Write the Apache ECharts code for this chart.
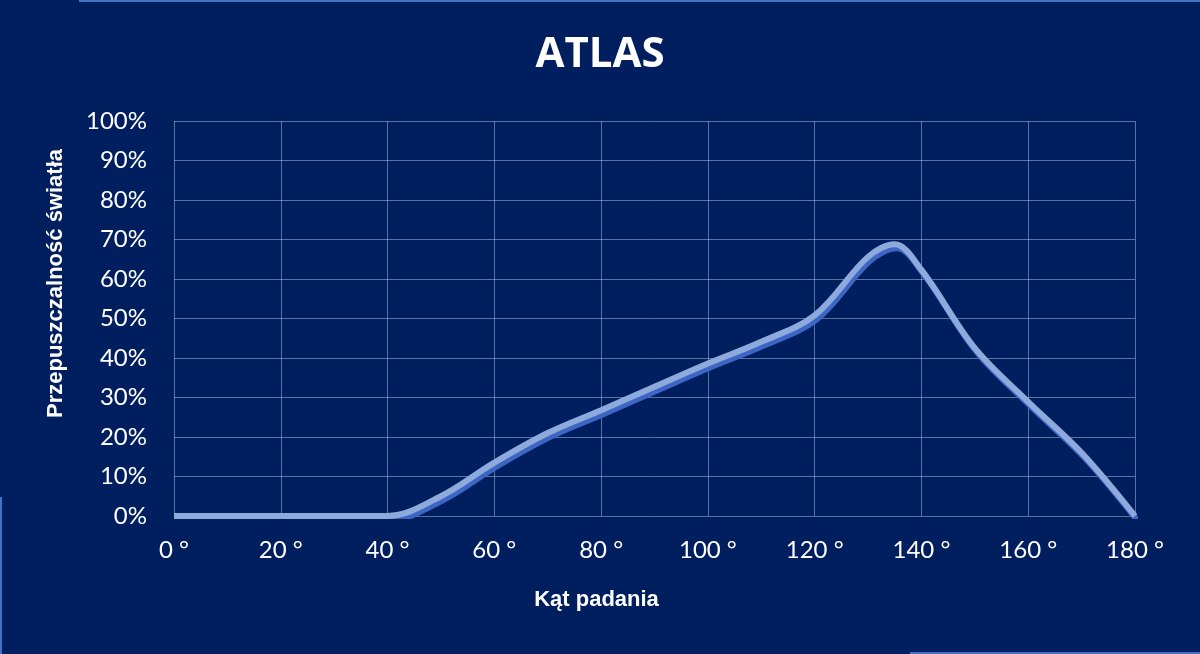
<!DOCTYPE html>
<html>
<head>
<meta charset="utf-8">
<script src="https://cdn.jsdelivr.net/npm/echarts@6/dist/echarts.min.js"></script>
<style>
  html, body { margin: 0; padding: 0; background: #011f5f; }
  #chart { width: 1200px; height: 654px; }
</style>
</head>
<body>
<div id="chart"></div>
<script>
// kąt padania (stopnie) i przepuszczalność (%)
const angles = [0, 10, 20, 30, 40, 50, 60, 70, 80, 90, 100, 110, 120, 130, 135, 140, 150, 160, 170, 180]
const transmission = [0, 0, 0, 0, 0, 5, 13.5, 21, 26.8, 32.7, 38.6, 44.1, 50.8, 65.6, 68.8, 62.3, 42.5, 28.9, 16, 0]
const xTicks = [0, 20, 40, 60, 80, 100, 120, 140, 160, 180]
const yTicks = [0, 10, 20, 30, 40, 50, 60, 70, 80, 90, 100]

const chart = echarts.init(document.getElementById('chart'))
const gridColor = 'rgba(200, 215, 245, 0.45)'
const labelFont = 'Lato, "Open Sans", sans-serif'
const nameFont = '"Liberation Sans", Arial, sans-serif'

const option = {
  backgroundColor: '#011f5f',
  animation: false,
  title: {
    text: 'ATLAS',
    left: 'center',
    top: 29,
    textStyle: {
      color: '#ffffff',
      fontFamily: '"Open Sans", sans-serif',
      fontWeight: 'bold',
      fontSize: 42
    }
  },
  grid: { left: 174, right: 65, top: 121, bottom: 138 },
  xAxis: {
    type: 'value',
    min: xTicks[0],
    max: xTicks[xTicks.length - 1],
    interval: 20,
    name: 'Kąt padania',
    nameLocation: 'middle',
    nameGap: 73,
    nameTextStyle: {
      color: '#ffffff', fontFamily: nameFont, fontWeight: 'bold', fontSize: 22,
      padding: [0, 116, 0, 0]
    },
    axisLine: { show: false },
    axisTick: { show: false },
    axisLabel: {
      color: '#ffffff',
      fontFamily: labelFont,
      fontSize: 24,
      margin: 22,
      formatter: v => v + ' °'
    },
    splitLine: { show: true, lineStyle: { color: gridColor, width: 1 } }
  },
  yAxis: {
    type: 'value',
    min: yTicks[0],
    max: yTicks[yTicks.length - 1],
    interval: 10,
    name: 'Przepuszczalność światła',
    nameLocation: 'middle',
    nameGap: 107,
    nameTextStyle: {
      color: '#ffffff', fontFamily: nameFont, fontWeight: 'bold', fontSize: 22,
      padding: [0, 0, 0, 70]
    },
    axisLine: { show: false },
    axisTick: { show: false },
    axisLabel: {
      color: '#ffffff',
      fontFamily: labelFont,
      fontSize: 24,
      margin: 27,
      formatter: v => v + '%'
    },
    splitLine: { show: true, lineStyle: { color: gridColor, width: 1 } }
  },
  series: [
    {
      type: 'line',
      data: angles.map((a, i) => [a, transmission[i]]),
      smooth: 0.35,
      showSymbol: false,
      lineStyle: {
        color: '#8eaadc',
        width: 6,
        shadowColor: '#3d66c4',
        shadowBlur: 0,
        shadowOffsetX: 2,
        shadowOffsetY: 4
      }
    }
  ],
  graphic: [
    { type: 'rect', shape: { x: 79, y: 0, width: 1121, height: 2 }, style: { fill: '#4472c4' } },
    { type: 'rect', shape: { x: 0, y: 497, width: 2, height: 157 }, style: { fill: '#4472c4' } },
    { type: 'rect', shape: { x: 910, y: 652, width: 290, height: 2 }, style: { fill: '#4472c4' } }
  ]
}

chart.setOption(option)
</script>
</body>
</html>
